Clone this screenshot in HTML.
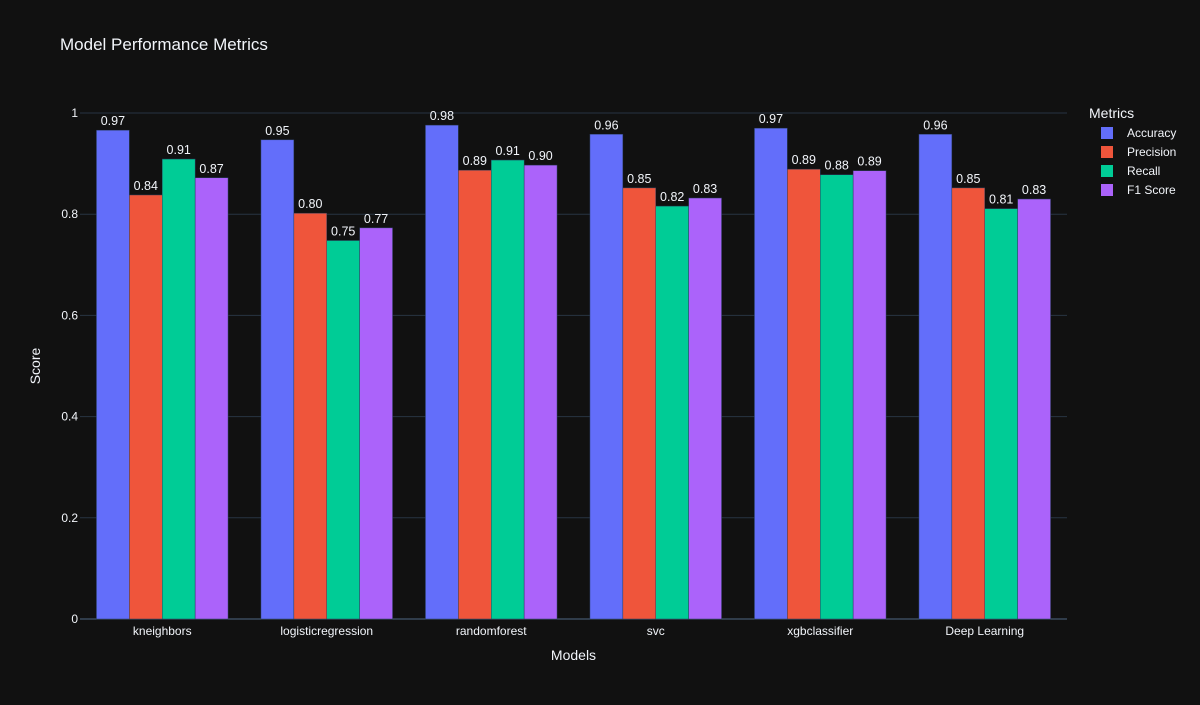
<!DOCTYPE html>
<html><head><meta charset="utf-8"><style>
body{margin:0;background:#111111;}
svg text{font-family:"Liberation Sans",Arial,sans-serif;fill:#f2f5fa;}
</style></head><body>
<svg id="chart" width="1200" height="700" xmlns="http://www.w3.org/2000/svg">
<rect width="1200" height="700" fill="#111111"/>
<text x="60" y="50" font-size="17">Model Performance Metrics</text>
<g id="grid"></g><g id="bars"></g><g id="labels"></g>
<text x="573.5" y="660" font-size="14" text-anchor="middle">Models</text>
<text x="0" y="0" font-size="14" text-anchor="middle" transform="translate(40,366) rotate(-90)">Score</text>
<g id="legend"></g>
</svg>
<script>
const categories=["kneighbors","logisticregression","randomforest","svc","xgbclassifier","Deep Learning"];
const seriesNames=["Accuracy","Precision","Recall","F1 Score"];
const accuracy=[0.966,0.947,0.976,0.958,0.970,0.958];
const precision=[0.838,0.802,0.887,0.852,0.889,0.852];
const recall=[0.909,0.748,0.907,0.816,0.878,0.811];
const f1=[0.872,0.773,0.897,0.832,0.886,0.830];
const yTicks=[0,0.2,0.4,0.6,0.8,1];
const yTickLabels=["0","0.2","0.4","0.6","0.8","1"];
const colors=["#636efa","#EF553B","#00cc96","#ab63fa"];
const series=[accuracy,precision,recall,f1];
const NS="http://www.w3.org/2000/svg";
const X0=80,X1=1067,Y0=619,Y1=113;
const y=v=>Y0-v*(Y0-Y1);
const band=(X1-X0)/categories.length, gw=band*0.8, bw=gw/4;
const xg=i=>X0+band*i+(band-gw)/2;
function mk(t,a,p){const e=document.createElementNS(NS,t);for(const k in a)e.setAttribute(k,a[k]);document.getElementById(p).appendChild(e);return e;}
yTicks.forEach((t,i)=>{
 if(t>0){const l=mk('line',{x1:X0,x2:X1,y1:y(t),y2:y(t),stroke:'#283442','stroke-width':1},'grid');
 
 }
 const tx=mk('text',{x:X0-2,y:y(t)+4,'font-size':12,'text-anchor':'end'},'grid');tx.textContent=yTickLabels[i];
 
 
});
const zl=mk('line',{x1:X0,x2:X1,y1:Y0,y2:Y0,stroke:'#506784','stroke-width':1},'grid');


categories.forEach((c,i)=>{
 const t=mk('text',{x:X0+band*(i+0.5),y:Y0+16,'font-size':12,'text-anchor':'middle'},'labels');t.textContent=c;
 
 
 series.forEach((s,j)=>{
  const bx=xg(i)+bw*j;
  const r=mk('rect',{x:bx,y:y(s[i]),width:bw,height:Y0-y(s[i]),fill:colors[j],stroke:'#2a3f5f','stroke-width':0.5},'bars');
  
  
  const lt=mk('text',{x:bx+bw/2,y:y(s[i])-5,'font-size':12.5,'text-anchor':'middle'},'labels');lt.textContent=s[i].toFixed(2);
  
  
 });
});
const lh=mk('text',{x:1089,y:118,'font-size':14},'legend');lh.textContent="Metrics";


seriesNames.forEach((n,j)=>{
 const g=mk('g',{},'legend');
 
 
 const yy=133+j*19;
 const r=document.createElementNS(NS,'rect');r.setAttribute('x',1101);r.setAttribute('y',yy-6);r.setAttribute('width',12);r.setAttribute('height',12);r.setAttribute('fill',colors[j]);g.appendChild(r);
 const t=document.createElementNS(NS,'text');t.setAttribute('x',1127);t.setAttribute('y',yy+4);t.setAttribute('font-size',12);t.textContent=n;g.appendChild(t);
});
</script>
</body></html>
